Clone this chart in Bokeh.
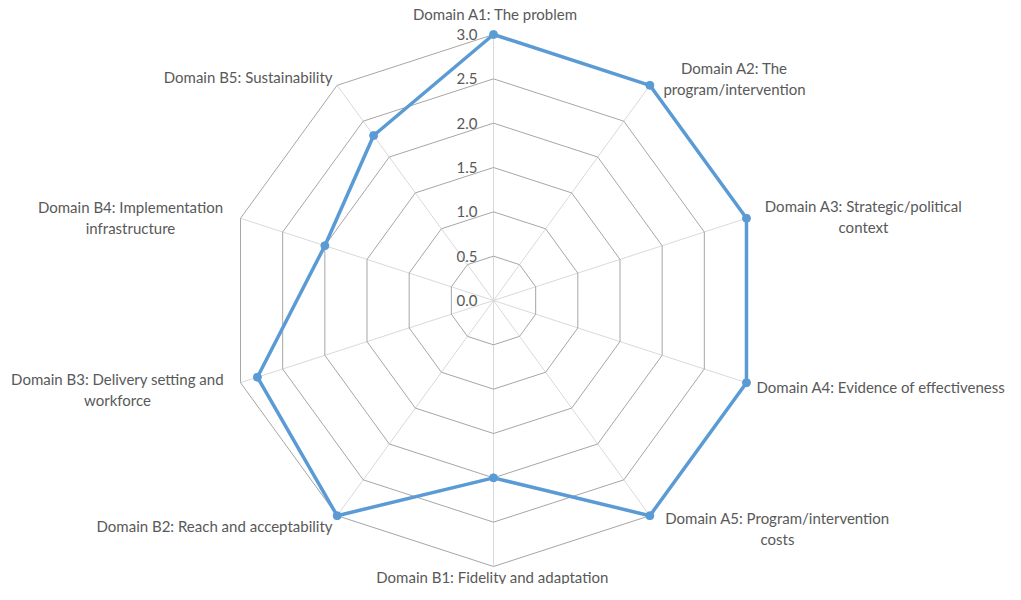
import math
from bokeh.plotting import figure
from bokeh.models import Range1d, ColumnDataSource
from bokeh.core.properties import value
from bokeh.embed import file_html
from bokeh.resources import INLINE

categories = [
    "Domain A1: The problem",
    "Domain A2: The\nprogram/intervention",
    "Domain A3: Strategic/political\ncontext",
    "Domain A4: Evidence of effectiveness",
    "Domain A5: Program/intervention\ncosts",
    "Domain B1: Fidelity and adaptation",
    "Domain B2: Reach and acceptability",
    "Domain B3: Delivery setting and\nworkforce",
    "Domain B4: Implementation\ninfrastructure",
    "Domain B5: Sustainability",
]
scores = [3.0, 3.0, 3.0, 3.0, 3.0, 2.0, 3.0, 2.8, 2.0, 2.3]
ring_values = [0.5, 1.0, 1.5, 2.0, 2.5, 3.0]
tick_labels = ["0.0", "0.5", "1.0", "1.5", "2.0", "2.5", "3.0"]
tick_values = [0.0, 0.5, 1.0, 1.5, 2.0, 2.5, 3.0]

# layout (pixel-like units, center at 0,0)
W, H = 1005, 584
CX, CY = 493, 300          # center in figure pixels
S = 266 / 3.0              # pixels per unit

# label anchor positions (figure px) and alignment
label_pos = [
    (495, 13, "center"),
    (734, 67, "center"),
    (863, 205, "center"),
    (756, 386, "left"),
    (777, 517, "center"),
    (492, 576, "center"),
    (332, 525, "right"),
    (117, 378, "center"),
    (130, 206, "center"),
    (332, 76, "right"),
]
LINE_H = 21

n = len(categories)
angles = [2 * math.pi * i / n for i in range(n)]

def pt(v, a):
    return v * S * math.sin(a), v * S * math.cos(a)

p = figure(width=W, height=H, output_backend="svg", toolbar_location=None,
           x_range=Range1d(-CX, W - CX), y_range=Range1d(-(H - CY), CY),
           min_border=0)
p.axis.visible = False
p.grid.visible = False
p.outline_line_color = None
p.background_fill_color = "white"
p.border_fill_color = "white"

# spokes
top = max(ring_values)
for a in angles:
    x1, y1 = pt(top, a)
    p.line([0, x1], [0, y1], line_color="#d9d9d9", line_width=1)

# rings
for rv in ring_values:
    xs = [pt(rv, a)[0] for a in angles] + [pt(rv, angles[0])[0]]
    ys = [pt(rv, a)[1] for a in angles] + [pt(rv, angles[0])[1]]
    p.line(xs, ys, line_color="#a6a6a6", line_width=1)

# tick labels
p.text(x=[-16] * len(tick_values), y=[tv * S for tv in tick_values], text=tick_labels,
       text_align="right", text_baseline="middle", text_font=value("Lato"),
       text_font_size="15px", text_color="#595959")

# data series
xs = [pt(v, a)[0] for v, a in zip(scores, angles)]
ys = [pt(v, a)[1] for v, a in zip(scores, angles)]
p.line(xs + [xs[0]], ys + [ys[0]], line_color="#5b9bd5", line_width=3.5, line_join="round")
p.scatter(xs, ys, size=8, fill_color="#5b9bd5", line_color="#5b9bd5")

# category labels
lx, ly, lt, la = [], [], [], []
for cat, (rx, ry, al) in zip(categories, label_pos):
    for k, line in enumerate(cat.split("\n")):
        lx.append(rx - CX)
        ly.append(CY - (ry + k * LINE_H))
        lt.append(line)
        la.append(al)
src = ColumnDataSource(dict(x=lx, y=ly, text=lt, align=la))
p.text(x="x", y="y", text="text", text_align="align", source=src,
       text_baseline="middle", text_font=value("Lato"), text_font_size="15px",
       text_color="#595959")

open("out.html", "w").write(file_html(p, INLINE))
